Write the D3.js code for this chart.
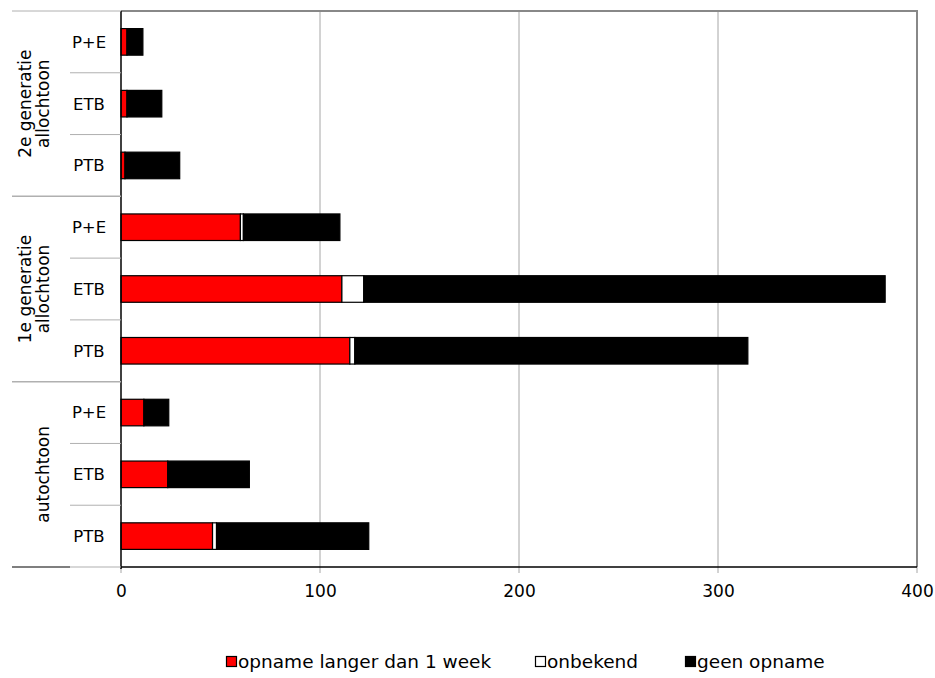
<!DOCTYPE html>
<html><head><meta charset="utf-8">
<script src="https://cdn.jsdelivr.net/npm/d3@7"></script>
<style>body{margin:0;background:#fff}svg{display:block}text{font-family:"DejaVu Sans",Verdana,sans-serif;fill:#000}</style>
</head><body>
<script>
const groups = [["2e generatie","allochtoon"],["1e generatie","allochtoon"],["autochtoon"]];
const categories = ["P+E","ETB","PTB"];
const opname   = [3, 3, 2,   60, 111, 115,   11.5, 23.5, 46];
const onbekend = [0, 0, 0,   1.5, 11, 2.5,   0, 0, 2];
const geen     = [8, 17.5, 27.5,   48.5, 262, 197.5,   12.5, 41, 76.5];
const seriesNames = ["opname langer dan 1 week","onbekend","geen opname"];
const colors = ["#FF0000","#FFFFFF","#000000"];
const xTicks = [0,100,200,300,400];

const W=935,H=678;
const L=121,R=917,T=11,B=567;
const svg=d3.select("body").append("svg").attr("width",W).attr("height",H);

const rows=[];
groups.forEach((g,gi)=>categories.forEach((c,ci)=>rows.push({id:gi*3+ci,g:gi,cat:c})));
const x=d3.scaleLinear().domain([0,400]).range([L,R]);
const y=d3.scaleBand().domain(rows.map(r=>r.id)).range([T,B]).paddingInner(0.57).paddingOuter(0.285);
const yg=d3.scaleBand().domain(groups.map((g,i)=>i)).range([T,B]);

// gridlines + ticks
svg.append("g").selectAll("line").data(xTicks.slice(1)).join("line")
  .attr("x1",d=>x(d)).attr("x2",d=>x(d)).attr("y1",T).attr("y2",B+6)
  .attr("stroke","#a6a6a6").attr("stroke-width",1);
svg.append("line").attr("x1",x(0)).attr("x2",x(0)).attr("y1",B).attr("y2",B+6).attr("stroke","#a6a6a6");

// x axis tick labels
const xAxis=d3.axisBottom(x).tickValues(xTicks).tickSize(0).tickPadding(0);
const gx=svg.append("g").attr("transform",`translate(0,${B})`).call(xAxis);
gx.select(".domain").remove();
gx.selectAll("text").attr("font-size",17).attr("font-family","DejaVu Sans").attr("dy",null).attr("y",30).attr("fill","#000");

// stacked bars
const stackData=rows.map(r=>({id:r.id,a:opname[r.id],b:onbekend[r.id],c:geen[r.id]}));
const stack=d3.stack().keys(["a","b","c"])(stackData);
svg.append("g").selectAll("g").data(stack).join("g")
  .attr("fill",(d,i)=>colors[i])
  .selectAll("rect").data(d=>d.filter(p=>p[1]-p[0]>0)).join("rect")
  .attr("x",d=>x(d[0])).attr("width",d=>x(d[1])-x(d[0]))
  .attr("y",d=>y(d.data.id)).attr("height",y.bandwidth())
  .attr("stroke","#000").attr("stroke-width",1.2);

// plot border: top and right
svg.append("line").attr("x1",L).attr("x2",R+1).attr("y1",T).attr("y2",T).attr("stroke","#888").attr("stroke-width",2);
svg.append("line").attr("x1",R).attr("x2",R).attr("y1",T).attr("y2",B).attr("stroke","#888").attr("stroke-width",2);
// bottom axis line
svg.append("line").attr("x1",L).attr("x2",R).attr("y1",B).attr("y2",B).attr("stroke","#000").attr("stroke-width",1.5);
// left axis line
svg.append("line").attr("x1",L).attr("x2",L).attr("y1",T).attr("y2",B+2).attr("stroke","#000").attr("stroke-width",1.5);

// category separators (within groups)
rows.forEach(r=>{
  if(r.id%3!==0){
    const yy=y(r.id)-y.step()*y.paddingInner()/2;
    svg.append("line").attr("x1",70).attr("x2",L).attr("y1",yy).attr("y2",yy).attr("stroke","#b0b0b0");
  }
});
// group separators
groups.forEach((g,i)=>{
  const yy=yg(i);
  svg.append("line").attr("x1",12).attr("x2",L).attr("y1",yy).attr("y2",yy).attr("stroke","#b0b0b0").attr("stroke-width",i===0?1:1.5);
});
svg.append("line").attr("x1",12).attr("x2",70).attr("y1",B).attr("y2",B).attr("stroke","#000").attr("stroke-width",1.2);
svg.append("line").attr("x1",70).attr("x2",L).attr("y1",B).attr("y2",B).attr("stroke","#b0b0b0").attr("stroke-width",1.2);

// category labels
svg.append("g").selectAll("text").data(rows).join("text")
  .attr("x",89).attr("y",d=>y(d.id)+y.bandwidth()/2).attr("dy","0.36em")
  .attr("text-anchor","middle").attr("font-size",16.5).text(d=>d.cat);

// group labels (rotated)
groups.forEach((g,i)=>{
  const cy=yg(i)+yg.bandwidth()/2;
  const t=svg.append("text").attr("transform",`translate(0,${cy}) rotate(-90)`)
    .attr("text-anchor","middle").attr("font-size",17);
  const lines=g.length;
  g.forEach((ln,k)=>{
    const cx = lines===2 ? (k===0?25:43) : 43;
    t.append("tspan").attr("x",0).attr("y",cx).attr("dy","0.36em").text(ln);
  });
});

// legend
const legX=[226,535,685];
const lg=svg.append("g");
seriesNames.forEach((s,i)=>{
  lg.append("rect").attr("x",legX[i]+0.5).attr("y",656.5).attr("width",10).attr("height",10)
    .attr("fill",colors[i]).attr("stroke","#000").attr("stroke-width",1.2);
  lg.append("text").attr("x",legX[i]+12).attr("y",668).attr("font-size",18.5).text(s);
});
</script>
</body></html>
